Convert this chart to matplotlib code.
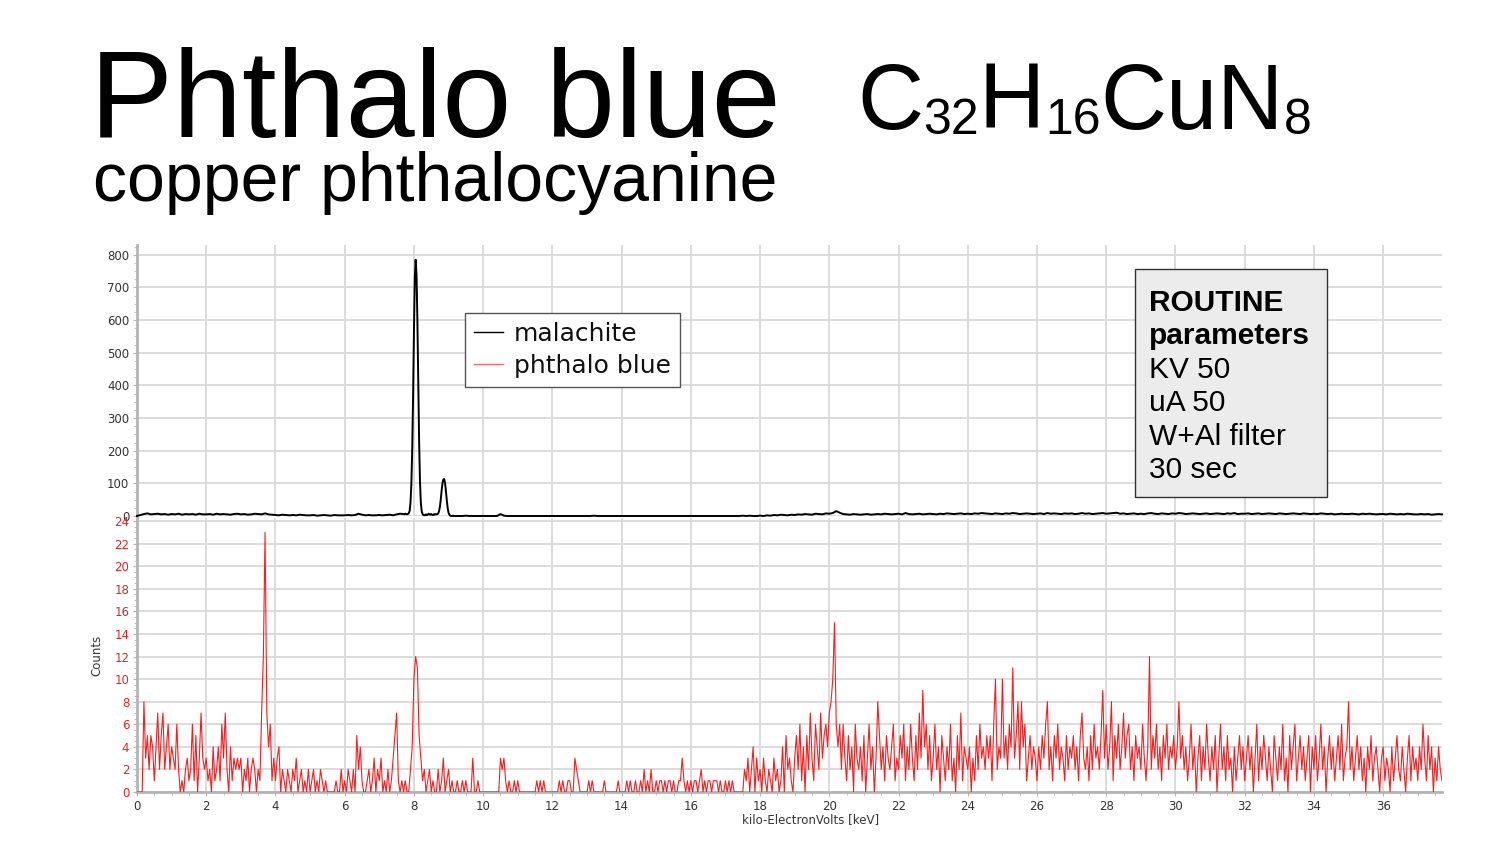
import matplotlib.pyplot as plt
import numpy as np
from matplotlib.lines import Line2D
from matplotlib.patches import Rectangle
from matplotlib.ticker import MultipleLocator

# --- malachite spectrum (black), counts ---
mal_low_start, mal_low_step = 0.0, 0.1
mal_low = [
    0, 3, 6, 8, 5, 6, 7, 5, 6, 4,
    6, 5, 7, 4, 6, 5, 6, 4, 7, 5,
    5, 6, 4, 7, 5, 6, 5, 4, 6, 7,
    5, 6, 4, 5, 7, 6, 5, 8, 5, 4,
    3, 2, 4, 3, 2, 3, 2, 4, 3, 2,
    2, 3, 1, 2, 3, 2, 1, 3, 2, 2,
    2, 3, 2, 3, 7, 4, 2, 3, 2, 2,
    3, 2, 3, 4, 2, 5, 7,
]
mal_peak_start, mal_peak_step = 7.7, 0.025
mal_peak = [
    6, 5, 7, 6, 5, 6, 8, 15, 40, 95, 200, 360, 560, 730, 785, 740, 600, 410, 230, 105, 40,
    14, 6, 3, 2, 3, 5, 3, 4, 7, 5, 4, 6, 4, 3, 5, 4, 6, 5, 5, 8,
    14, 28, 50, 78, 100, 112, 113, 100, 76, 48, 24, 10, 4, 1, 0, 0, 1, 0, 0, 0,
]
mal_high_start, mal_high_step = 9.3, 0.1
mal_high = [
    0, 0, 1, 0, 0, 0, 0,
    0, 0, 0, 0, 0, 6, 1, 0, 0, 0,
    0, 0, 0, 0, 0, 0, 0, 0, 0, 0,
    0, 0, 0, 0, 0, 0, 0, 0, 0, 0,
    0, 0, 1, 0, 0, 0, 0, 0, 0, 0,
    0, 0, 0, 0, 0, 0, 0, 0, 0, 0,
    0, 0, 0, 0, 0, 0, 0, 0, 0, 0,
    0, 0, 0, 0, 0, 0, 0, 0, 0, 0,
    0, 0, 0, 0, 0, 1, 0, 1, 0, 0,
    1, 0, 2, 1, 3, 2, 4, 3, 2, 4,
    3, 5, 4, 6, 5, 4, 7, 6, 5, 8,
    7, 9, 15, 10, 6, 5, 4, 6, 5, 4,
    5, 6, 4, 5, 6, 5, 7, 6, 5, 6,
    7, 5, 9, 6, 5, 6, 7, 5, 6, 7,
    6, 5, 7, 6, 8, 7, 6, 7, 8, 6,
    7, 6, 8, 7, 9, 8, 7, 6, 8, 7,
    6, 8, 7, 9, 8, 6, 7, 8, 7, 6,
    7, 8, 6, 9, 7, 8, 7, 6, 8, 7,
    8, 6, 7, 9, 7, 8, 6, 7, 8, 9,
    7, 8, 9, 10, 7, 8, 6, 7, 8, 6,
    7, 6, 8, 9, 7, 6, 8, 7, 6, 8,
    7, 9, 8, 6, 7, 8, 7, 6, 7, 8,
    6, 7, 8, 7, 6, 8, 7, 9, 6, 7,
    7, 8, 6, 7, 8, 6, 7, 8, 7, 6,
    8, 7, 6, 7, 8, 7, 6, 8, 7, 6,
    7, 6, 8, 7, 6, 7, 5, 6, 7, 6,
    6, 7, 6, 5, 7, 6, 7, 6, 5, 6,
    6, 5, 7, 6, 5, 6, 5, 7, 6, 5,
    5, 6, 5, 6, 4, 5, 6, 5,
]

# --- phthalo blue spectrum (red), one row per keV, 0.05 keV channels ---
pb_start, pb_step = 0.0, 0.05
pb_counts = [
    0, 0, 0, 0, 8, 3, 5, 2, 5, 4, 1, 4, 7, 2, 5, 7, 2, 4, 6, 2,
    4, 3, 2, 6, 2, 0, 1, 0, 2, 3, 1, 2, 6, 1, 5, 0, 3, 7, 3, 2,
    3, 1, 2, 0, 4, 1, 2, 4, 1, 6, 3, 7, 2, 0, 4, 1, 3, 2, 3, 2,
    3, 0, 2, 1, 3, 0, 2, 3, 2, 0, 2, 1, 7, 12, 23, 7, 4, 6, 1, 3,
    1, 3, 4, 0, 2, 1, 0, 2, 1, 0, 2, 1, 3, 0, 1, 2, 0, 1, 0, 2,
    0, 1, 2, 0, 1, 0, 2, 1, 0, 1, 0, 0, 0, 0, 0, 1, 0, 0, 2, 0,
    1, 0, 2, 1, 0, 2, 0, 5, 2, 4, 1, 0, 0, 1, 2, 0, 1, 3, 0, 2,
    1, 3, 0, 1, 0, 2, 0, 1, 3, 5, 7, 1, 0, 1, 0, 1, 0, 0, 2, 4,
    10, 12, 11, 5, 3, 1, 2, 0, 1, 2, 0, 1, 0, 0, 2, 0, 1, 3, 0, 1,
    2, 0, 1, 0, 0, 1, 0, 0, 1, 0, 1, 0, 0, 0, 3, 0, 0, 1, 0, 0,
    0, 0, 0, 0, 0, 0, 0, 0, 0, 0, 3, 2, 3, 1, 0, 1, 0, 0, 1, 0,
    1, 0, 0, 0, 0, 0, 0, 0, 0, 0, 0, 1, 0, 1, 0, 1, 0, 0, 0, 0,
    0, 0, 0, 0, 1, 0, 1, 0, 0, 1, 1, 0, 0, 3, 2, 1, 0, 0, 0, 0,
    0, 1, 0, 1, 0, 0, 0, 0, 0, 0, 1, 0, 0, 0, 0, 0, 0, 0, 1, 0,
    0, 0, 0, 1, 0, 1, 0, 0, 1, 0, 0, 1, 0, 2, 0, 1, 0, 2, 0, 0,
    1, 0, 1, 1, 0, 1, 0, 1, 1, 0, 1, 0, 0, 1, 1, 3, 1, 0, 1, 0,
    1, 0, 1, 1, 0, 1, 2, 0, 1, 0, 1, 1, 0, 1, 1, 1, 0, 1, 0, 0,
    1, 0, 1, 0, 1, 0, 0, 0, 0, 0, 0, 2, 1, 3, 0, 2, 4, 0, 3, 1,
    2, 0, 3, 1, 0, 2, 1, 0, 3, 1, 2, 0, 1, 4, 0, 5, 2, 3, 1, 0,
    3, 5, 2, 6, 1, 4, 0, 5, 2, 7, 3, 1, 6, 4, 2, 7, 3, 5, 6, 4,
    7, 8, 10, 15, 6, 4, 6, 2, 6, 3, 1, 5, 2, 4, 0, 6, 3, 2, 4, 1,
    5, 0, 3, 6, 2, 4, 0, 3, 8, 5, 2, 4, 1, 5, 3, 2, 4, 6, 1, 3,
    2, 5, 3, 6, 1, 4, 2, 6, 3, 1, 5, 2, 7, 3, 9, 4, 6, 2, 5, 1,
    3, 6, 2, 4, 0, 5, 3, 1, 4, 2, 6, 1, 3, 0, 5, 2, 7, 1, 4, 3,
    2, 4, 0, 3, 1, 5, 2, 6, 3, 4, 2, 5, 3, 5, 1, 6, 10, 2, 4, 3,
    10, 3, 5, 2, 6, 4, 11, 3, 5, 8, 2, 8, 4, 6, 1, 3, 5, 2, 4, 3,
    1, 4, 2, 5, 3, 6, 8, 2, 4, 1, 5, 3, 6, 2, 4, 3, 1, 5, 2, 4,
    3, 5, 2, 4, 1, 5, 7, 3, 2, 4, 1, 5, 2, 6, 3, 4, 2, 5, 9, 3,
    6, 2, 4, 8, 1, 5, 3, 6, 2, 4, 7, 3, 5, 6, 2, 4, 1, 5, 3, 4,
    2, 6, 3, 1, 4, 12, 2, 5, 3, 6, 2, 4, 1, 5, 3, 6, 2, 4, 3, 5,
    2, 4, 8, 3, 5, 2, 4, 1, 3, 6, 2, 4, 0, 3, 5, 1, 4, 2, 6, 3,
    1, 4, 2, 5, 0, 3, 6, 2, 4, 1, 5, 2, 3, 0, 4, 1, 3, 5, 2, 4,
    1, 3, 5, 2, 4, 0, 3, 6, 1, 4, 2, 5, 3, 1, 4, 2, 0, 5, 3, 1,
    4, 2, 6, 1, 3, 0, 5, 2, 4, 6, 1, 3, 5, 2, 4, 1, 3, 5, 0, 4,
    2, 5, 1, 3, 6, 2, 4, 0, 3, 5, 2, 4, 1, 3, 5, 2, 6, 1, 3, 4,
    8, 2, 4, 1, 3, 5, 2, 4, 1, 3, 0, 4, 2, 5, 1, 3, 4, 2, 0, 3,
    4, 1, 3, 2, 0, 4, 1, 3, 5, 2, 1, 4, 2, 0, 3, 5, 1, 4, 2, 3,
    1, 4, 2, 6, 3, 1, 5, 2, 4, 0, 3, 1, 4, 2, 1,
]

series_labels = ["malachite", "phthalo blue"]
title = "Phthalo blue"
subtitle = "copper phthalocyanine"
formula_parts = [("C", False), ("32", True), ("H", False), ("16", True), ("CuN", False), ("8", True)]
routine_lines = [("ROUTINE", "bold"), ("parameters", "bold"), ("KV 50", "normal"),
                 ("uA 50", "normal"), ("W+Al filter", "normal"), ("30 sec", "normal")]
x_max = 37.7

W, H = 1500, 844
GRID = "#d9d9d9"
SPINE = "#b4b4b4"
RED = "#ff1a1a"
TITLE_FONT = "Liberation Sans"


def channel_axis(start, step, values):
    return np.round(start + step * np.arange(len(values)), 3)


def style_axes(ax, label_color):
    ax.spines["top"].set_visible(False)
    ax.spines["right"].set_visible(False)
    ax.spines["left"].set_color(SPINE)
    ax.spines["left"].set_linewidth(2)
    ax.spines["bottom"].set_color(SPINE)
    ax.spines["bottom"].set_linewidth(2)
    ax.grid(True, which="major", color=GRID, linewidth=1.3)
    ax.set_axisbelow(True)
    ax.set_xlim(0, x_max)
    ax.xaxis.set_major_locator(MultipleLocator(2))
    ax.xaxis.set_minor_locator(MultipleLocator(0.5))
    ax.tick_params(axis="both", which="both", direction="out", color=SPINE)
    ax.tick_params(axis="both", which="major", length=3, labelsize=8.5, pad=2.5)
    ax.tick_params(axis="both", which="minor", length=2)
    ax.tick_params(axis="y", labelcolor=label_color)
    ax.tick_params(axis="x", labelcolor="#333333")


fig = plt.figure(figsize=(W / 100, H / 100), dpi=100)
ax_top = fig.add_axes([137 / W, 1 - 516 / H, 1305 / W, 271 / H])
ax_bot = fig.add_axes([137 / W, 1 - 792 / H, 1305 / W, 274 / H])

# upper panel: malachite
mal_x = np.concatenate([
    channel_axis(mal_low_start, mal_low_step, mal_low),
    channel_axis(mal_peak_start, mal_peak_step, mal_peak),
    channel_axis(mal_high_start, mal_high_step, mal_high),
])
mal_y = np.array(mal_low + mal_peak + mal_high)
ax_top.plot(mal_x, mal_y, color="black", linewidth=1.4, clip_on=False, zorder=3)
style_axes(ax_top, "#333333")
ax_top.set_ylim(0, 830)
ax_top.yaxis.set_major_locator(MultipleLocator(100))
ax_top.yaxis.set_minor_locator(MultipleLocator(25))
ax_top.spines["bottom"].set_visible(False)
ax_top.tick_params(axis="x", which="both", bottom=False, labelbottom=False)

# lower panel: phthalo blue
pb_x = channel_axis(pb_start, pb_step, pb_counts)
ax_bot.plot(pb_x, pb_counts, color=RED, linewidth=0.8, zorder=3)
style_axes(ax_bot, "#e02424")
ax_bot.set_ylim(0, 24.27)
ax_bot.yaxis.set_major_locator(MultipleLocator(2))
ax_bot.yaxis.set_minor_locator(MultipleLocator(0.5))
ax_bot.set_xlabel("kilo-ElectronVolts [keV]", fontsize=8.5, color="#333333")
ax_bot.xaxis.set_label_coords((811 - 137) / 1305, -0.075)
ax_bot.set_ylabel("Counts", fontsize=8.5, color="#333333")
ax_bot.yaxis.set_label_coords(-0.026, 0.5)

# legend
handles = [Line2D([], [], color="black", linewidth=1.0),
           Line2D([], [], color="#f07070", linewidth=1.0)]
leg = ax_top.legend(handles, series_labels, loc="upper left",
                    bbox_to_anchor=(465 / W, 1 - 313 / H), bbox_transform=fig.transFigure,
                    fontsize=18, fancybox=False, framealpha=1, edgecolor="#555555",
                    borderaxespad=0, borderpad=0.35, labelspacing=0.32,
                    handlelength=1.15, handletextpad=0.45)
leg.get_frame().set_linewidth(1.0)
for t in leg.get_texts():
    t.set_color("#111111")

# parameter box
fig.patches.append(Rectangle((1135 / W, 1 - 497 / H), 192 / W, 228 / H,
                             transform=fig.transFigure, facecolor="#ececec",
                             edgecolor="#333333", linewidth=1.0, zorder=5))
for i, (line, weight) in enumerate(routine_lines):
    fig.text(1149 / W, 1 - (311 + 33.4 * i) / H, line, fontsize=21.5, family=TITLE_FONT,
             fontweight=weight, va="baseline", ha="left", zorder=6)

# headings
fig.text(90 / W, 1 - 137 / H, title, fontsize=89.5, family=TITLE_FONT, va="baseline")
fig.text(93 / W, 1 - 201 / H, subtitle, fontsize=49, family=TITLE_FONT, va="baseline")

renderer = fig.canvas.get_renderer()
x_px = 857
for part, is_sub in formula_parts:
    size = 36 if is_sub else 66
    base = 134 if is_sub else 129
    t = fig.text(x_px / W, 1 - base / H, part, fontsize=size, family=TITLE_FONT, va="baseline")
    x_px = t.get_window_extent(renderer).x1

fig.savefig("out.png", dpi=100)
